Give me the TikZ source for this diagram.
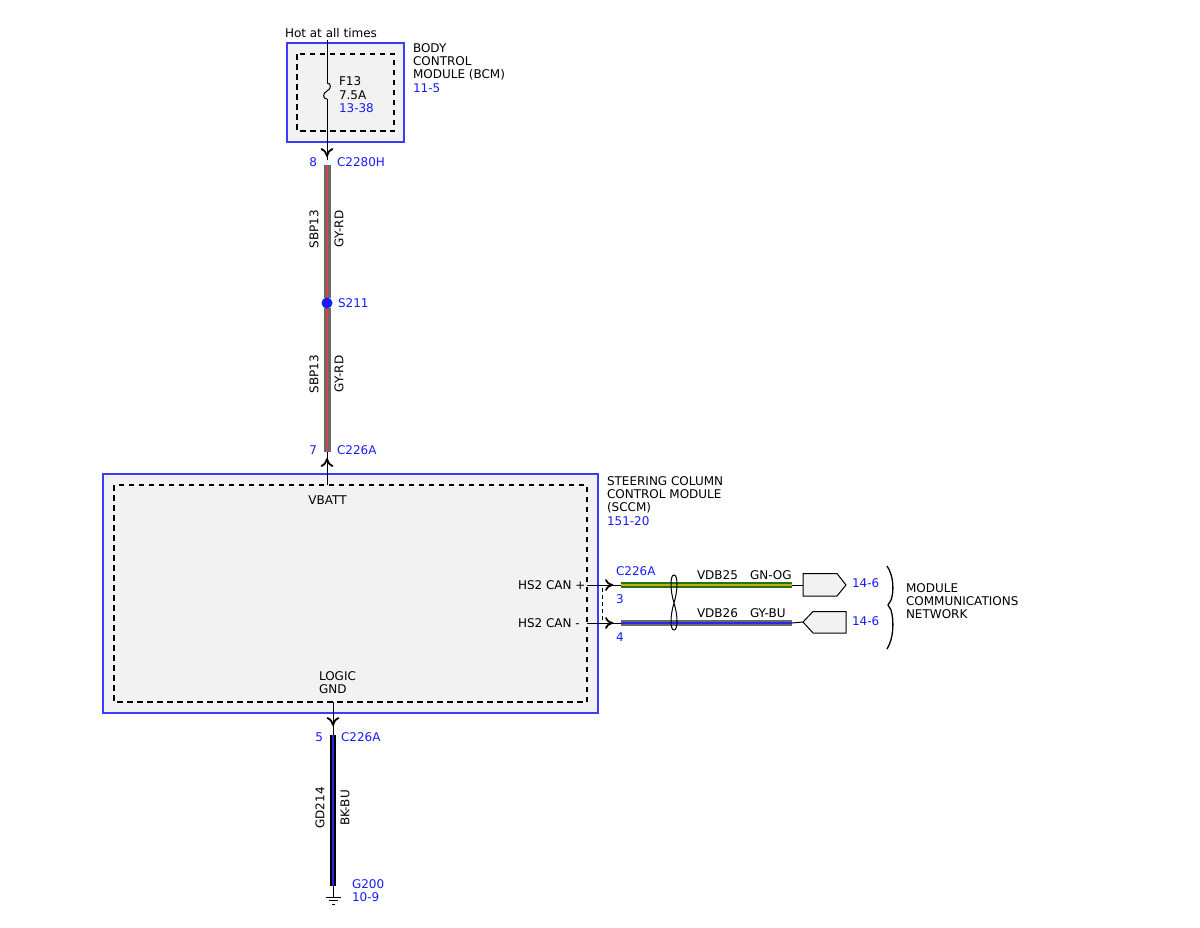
\documentclass[tikz,border=0pt]{standalone}
\usepackage{fontspec}
\setmainfont{DejaVu Sans}
\definecolor{cblue}{RGB}{60,60,255}
\definecolor{tblue}{RGB}{25,25,255}
\definecolor{fillgray}{RGB}{242,242,242}
\definecolor{wgray}{RGB}{105,105,105}
\definecolor{wred}{RGB}{215,70,70}
\definecolor{wgreen}{RGB}{40,115,15}
\definecolor{wyel}{RGB}{190,175,30}
\definecolor{wblue}{RGB}{40,40,235}
\begin{document}
\begin{tikzpicture}[x=1pt,y=-1pt,
 every node/.style={inner sep=0pt, outer sep=0pt},
 txt/.style={font=\fontsize{12}{13}\selectfont, align=left},
 tb/.style={txt, text=tblue},
 vt/.style={font=\fontsize{12}{13}\selectfont, rotate=90},
 module/.style={draw=cblue, fill=fillgray, line width=1.2pt},
 dbox/.style={draw=black, line width=1.2pt, dash pattern=on 5.5pt off 4.5pt},
 wire/.style={draw=black, line width=1pt},
 chev/.style={draw=black, line width=1.8pt, line cap=round, line join=round},
 grywire/.style={draw=wgray, line width=7pt},
 redstripe/.style={draw=wred, line width=1.2pt},
 blkwire/.style={draw=black, line width=6pt},
 blustripe/.style={draw=wblue, line width=2.4pt},
 grnwire/.style={draw=wgreen, line width=6pt},
 yelstripe/.style={draw=wyel, line width=2pt},
 gywire/.style={draw=wgray, line width=6pt},
 plug/.style={draw=black, fill=fillgray, line width=1pt, line join=miter},
]
\useasboundingbox (0,0) rectangle (1200,927);

% ---------- modules ----------
\draw[module] (287,43) rectangle (404,142);
\draw[dbox] (297,54) rectangle (394,131);
\draw[module] (103,474) rectangle (598,713);
\draw[dbox] (114,485) rectangle (587,702);

% ---------- coordinates ----------
\coordinate (hotTop) at (327,40);
\coordinate (fuseA) at (327,83);
\coordinate (fuseB) at (327,99);
\coordinate (bcmOut) at (327,160);
\coordinate (w1a) at (327,165);
\coordinate (w1b) at (327,298);
\coordinate (w2a) at (327,308);
\coordinate (w2b) at (327,452);
\coordinate (vbIn) at (327,485);
\coordinate (gndOut) at (333,702);
\coordinate (gndC) at (333,735);
\coordinate (w3b) at (333,886);
\coordinate (gsym) at (333,897);
\coordinate (canPa) at (587,585);
\coordinate (canPb) at (621,585);
\coordinate (canMa) at (587,623);
\coordinate (canMb) at (621,623);
\coordinate (canPe) at (792,585);
\coordinate (canMe) at (792,623);
\coordinate (conTop) at (602,588);
\coordinate (conBot) at (602,622);
\coordinate (tw) at (674,603);

% ---------- texts ----------
\node[txt, anchor=base west] (hot) at (285,37.4) {Hot at all times};
\node[txt, anchor=north west] (bcm) at (413,43.6) {BODY\\CONTROL\\MODULE (BCM)};
\node[tb, anchor=base west] (bcmref) at (413,92.4) {11-5};
\node[txt, anchor=north west, font=\fontsize{12}{14}\selectfont] (fuse) at (339,76.6) {F13\\7.5A};
\node[tb, anchor=base west] (fuseref) at (339,112.4) {13-38};
\node[tb, anchor=base east] (p8) at (317,166.4) {8};
\node[tb, anchor=base west] (c2280h) at (337,166.4) {C2280H};
\node[vt] (sbp1) at (314,229) {SBP13};
\node[vt] (gyrd1) at (339,229) {GY-RD};
\node[tb, anchor=base west] (s211) at (338,307.4) {S211};
\node[vt] (sbp2) at (314,374) {SBP13};
\node[vt] (gyrd2) at (339,374) {GY-RD};
\node[tb, anchor=base east] (p7) at (317,454.4) {7};
\node[tb, anchor=base west] (c226a1) at (337,454.4) {C226A};
\node[txt, anchor=north west] (sccm) at (607,476.9) {STEERING COLUMN\\CONTROL MODULE\\(SCCM)};
\node[tb, anchor=base west] (sccmref) at (607,525.4) {151-20};
\node[txt] (vbatt) at (327.5,500.5) {VBATT};
\node[txt, anchor=north west] (logic) at (319,671.6) {LOGIC\\GND};
\node[tb, anchor=base east] (p5) at (323,741) {5};
\node[tb, anchor=base west] (c226a3) at (341,741) {C226A};
\node[vt] (gd214) at (320,808) {GD214};
\node[vt] (bkbu) at (345,808) {BK-BU};
\node[tb, anchor=base west] (g200) at (352,888) {G200};
\node[tb, anchor=base west] (g200ref) at (352,901) {10-9};
\node[txt, anchor=base west] (hsp) at (518,589.2) {HS2 CAN +};
\node[txt, anchor=base west] (hsm) at (518,627) {HS2 CAN -};
\node[tb, anchor=base west] (c226a2) at (616,575.7) {C226A};
\node[tb, anchor=base west] (p3) at (616,603.4) {3};
\node[tb, anchor=base west] (p4) at (616,641.4) {4};
\node[txt, anchor=base west] (vdb25) at (697,579.7) {VDB25};
\node[txt, anchor=base west] (gnog) at (750,579.7) {GN-OG};
\node[txt, anchor=base west] (vdb26) at (697,617.4) {VDB26};
\node[txt, anchor=base west] (gybu) at (750,617.4) {GY-BU};
\node[tb, anchor=base west] (r1) at (852,587.4) {14-6};
\node[tb, anchor=base west] (r2) at (852,625.7) {14-6};
\node[txt, anchor=north west] (mcn) at (906,583.3) {MODULE\\COMMUNICATIONS\\NETWORK};

% ---------- BCM feed ----------
\draw[wire] (hotTop) -- (fuseA);
\draw[wire] (fuseA) .. controls (331.5,83) and (331.5,89) .. (327,91)
               .. controls (322.5,93) and (322.5,99) .. (fuseB);
\draw[wire] (fuseB) -- (bcmOut);
\draw[chev] (321.5,149) .. controls (325,151) .. (327,156) .. controls (329,151) .. (332.5,149);

% ---------- SBP13 wire ----------
\draw[grywire] (w1a) -- (w1b);
\draw[redstripe] (w1a) -- (w1b);
\draw[grywire] (w2a) -- (w2b);
\draw[redstripe] (w2a) -- (w2b);
\fill[tblue] (327,303) circle (5.5);
\draw[wire] (w2b) -- (vbIn);
\draw[chev] (321.5,466) .. controls (325,464) .. (327,459) .. controls (329,464) .. (332.5,466);

% ---------- ground ----------
\draw[wire] (gndOut) -- (gndC);
\draw[chev] (327.5,718) .. controls (331,720) .. (333,725) .. controls (335,720) .. (338.5,718);
\draw[blkwire] (gndC) -- (w3b);
\draw[blustripe] (gndC) -- (w3b);
\draw[wire] (w3b) -- (gsym);
\draw[wire] (325.5,897) -- (340.5,897);
\draw[wire] (328.5,900.5) -- (337.5,900.5);
\draw[wire] (331.5,904) -- (334.5,904);

% ---------- CAN ----------
\draw[wire] (canPa) -- (canPb);
\draw[wire] (canMa) -- (canMb);
\draw[chev] (606,580) .. controls (608,583.5) .. (612.5,585) .. controls (608,586.5) .. (606,590);
\draw[chev] (606,618) .. controls (608,621.5) .. (612.5,623) .. controls (608,624.5) .. (606,628);
\draw[draw=black, line width=1pt, dash pattern=on 4pt off 3pt] (conTop) -- (conBot);
\draw[grnwire] (canPb) -- (canPe);
\draw[yelstripe] (canPb) -- (canPe);
\draw[gywire] (canMb) -- (canMe);
\draw[draw=wblue, line width=1.2pt] (canMb) -- (canMe);
\draw[wire] (tw) .. controls (670,590) and (670,575) .. (674,575)
               .. controls (678,575) and (678,590) .. (tw)
               .. controls (670,616) and (670,630) .. (674,630)
               .. controls (678,630) and (678,616) .. (tw);
\draw[wire] (canPe) -- (803,585);
\draw[wire] (canMe) -- (803,622);
\draw[plug] (803,573.5) -- (837,573.5) -- (846,585) -- (837,596) -- (803,596) -- cycle;
\draw[plug] (803,622) -- (813,611.5) -- (846,611.5) -- (846,633) -- (813,633) -- cycle;

% ---------- brace ----------
\draw[draw=black, line width=1.3pt] (887,566) .. controls (894,576) and (894,592) .. (891,600)
    .. controls (890,603) .. (888,605) .. controls (890,607) .. (891,610)
    .. controls (894,620) and (894,638) .. (887,649);
\end{tikzpicture}
\end{document}
